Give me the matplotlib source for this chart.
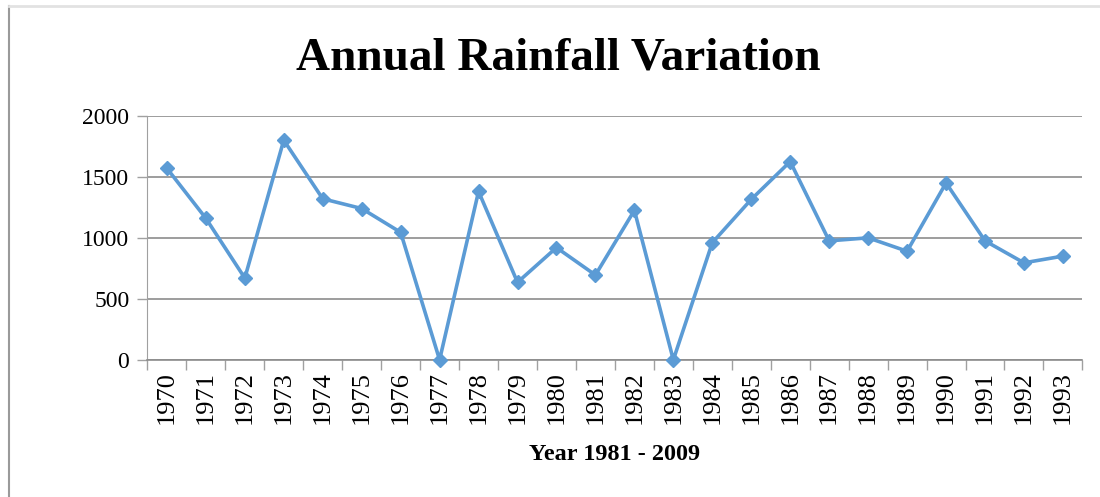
import numpy as np
from matplotlib import pyplot as plt
from matplotlib.lines import Line2D

# data
years = [str(y) for y in range(1970, 1994)]
rainfall = [1570, 1160, 670, 1800, 1320, 1240, 1045, 0, 1380, 635, 920, 695,
            1225, 0, 960, 1315, 1625, 975, 1000, 890, 1450, 975, 795, 850]
y_ticks = [0, 500, 1000, 1500, 2000]

plt.rcParams['font.family'] = ['Liberation Serif', 'DejaVu Serif']

fig = plt.figure(figsize=(11, 4.97), dpi=100)
ax = fig.add_axes([0.134, 0.276, 0.850, 0.491])

x = np.arange(len(years))
ax.plot(x, rainfall, color='#5B9BD5', lw=2.6, marker='D', markersize=7.5,
        markeredgecolor='#5B9BD5', markerfacecolor='#5B9BD5', zorder=3,
        clip_on=False)

ax.set_xlim(-0.5, len(years) - 0.5)
ax.set_ylim(0, 2000)
ax.set_yticks(y_ticks)
ax.set_yticklabels([str(v) for v in y_ticks], fontsize=17)
ax.grid(axis='y', color='#8c8c8c', lw=1.2)
ax.set_axisbelow(True)

# labels in the middle of each category, tick marks on the boundaries
ax.set_xticks(x)
ax.set_xticklabels(years, rotation=90, fontsize=19)
ax.set_xticks(np.arange(len(years) + 1) - 0.5, minor=True)
ax.tick_params(axis='x', which='major', length=0, pad=8)
ax.tick_params(axis='x', which='minor', length=7, color='#a0a0a0', width=1)
ax.tick_params(axis='y', length=7, color='#a0a0a0', width=1, pad=6)

for side in ['top', 'right']:
    ax.spines[side].set_visible(False)
ax.spines['left'].set_color('#a0a0a0')
ax.spines['bottom'].set_color('#8c8c8c')
ax.spines['bottom'].set_linewidth(1.2)

fig.text(0.508, 0.883, 'Annual Rainfall Variation', ha='center', va='center',
         fontsize=34, fontweight='bold')
fig.text(0.559, 0.085, 'Year 1981 - 2009', ha='center', va='center',
         fontsize=17.5, fontweight='bold')

# chart frame
fig.add_artist(Line2D([0.008, 0.008], [0, 0.988], transform=fig.transFigure,
                      color='#9a9a9a', lw=1.5))
fig.add_artist(Line2D([0.008, 1], [0.988, 0.988], transform=fig.transFigure,
                      color='#e2e2e2', lw=2))

fig.savefig('out.png', dpi=100)
